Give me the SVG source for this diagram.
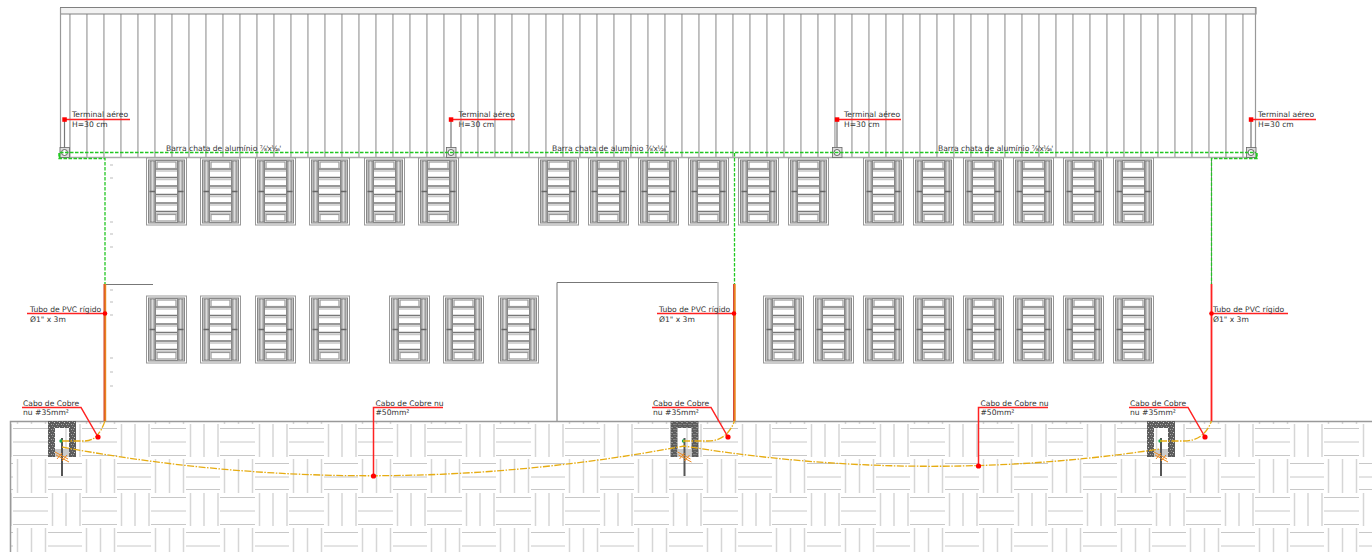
<svg xmlns="http://www.w3.org/2000/svg" width="1372" height="552" viewBox="0 0 1372 552">
<style>
text{font-family:"DejaVu Sans",sans-serif;font-size:7.6px;fill:#333}
.lead{fill:none;stroke:#f22;stroke-width:1.500}
.dot{fill:#f00}
.gnd{fill:none;stroke:#22c822;stroke-width:1.300;stroke-dasharray:3.500 1.500}
.cu{fill:none;stroke:#e6ac12;stroke-width:1.300;stroke-dasharray:7 1.500 1.500 1.500}
.tube{stroke:#e8821e;stroke-width:2.400;fill:none}
.tube2{stroke:#c33;stroke-width:.8;fill:none}
.f{font-size:7.400px;letter-spacing:-.7px}
</style>
<defs>
<pattern id="ribs" patternUnits="userSpaceOnUse" x="69" y="14" width="17" height="20">
<rect x="0" y="0" width="1.800" height="20" fill="#bcbcbc"/>
</pattern>
<pattern id="pave" patternUnits="userSpaceOnUse" x="13" y="424" width="69" height="69">
<g fill="none" stroke="#c8c8c8" stroke-width="1">
<path d="M0 4.500H35M0 18H35M0 31.500H35"/>
<path d="M35 39.500H69M35 53H69M35 65.500H69"/>
</g>
<g fill="none" stroke="#d6d6d6" stroke-width="1.500">
<path d="M39.500 0V33M53 0V33M67 0V33"/>
<path d="M4.500 35V69M18.500 35V69M32.500 35V69"/>
</g>
</pattern>
<pattern id="speck" patternUnits="userSpaceOnUse" width="5" height="5">
<rect width="5" height="5" fill="#5c5c5c"/>
<rect x="1" y="1" width="1" height="1" fill="#ccc"/>
<rect x="3" y="3" width="1" height="1" fill="#aaa"/>
<rect x="4" y="0" width="1" height="1" fill="#888"/>
<rect x="0" y="3" width="1" height="1" fill="#999"/>
</pattern>
<g id="win">
<rect x=".5" y=".5" width="40" height="67" fill="#fff" stroke="#999"/>
<rect x="2.500" y="2.500" width="36" height="63" fill="none" stroke="#888"/>
<rect x="4" y="3.500" width="5" height="61" fill="#bbb" stroke="#808080" stroke-width="1"/>
<rect x="32" y="3.500" width="5" height="61" fill="#bbb" stroke="#808080" stroke-width="1"/>
<path d="M6.500 4V64M34.500 4V64" stroke="#ddd" stroke-width="1" fill="none"/>
<path d="M3.500 34h6M31.500 34h6" stroke="#666" stroke-width="1.500"/>
<rect x="9.500" y="3" width="22" height="62" fill="#fff" stroke="#888"/>
<g fill="none" stroke="#777" stroke-width="1.400">
<path d="M10 11.500H31M10 20H31M10 28.500H31M10 37H31M10 45.500H31M10 54H31"/>
</g>
<g fill="none" stroke="#c8c8c8" stroke-width="1.600">
<path d="M10 13.500H31M10 22H31M10 30.500H31M10 39H31M10 47.500H31M10 56H31"/>
</g>
<rect x="11" y="4.500" width="19" height="6.500" fill="#fff" stroke="#999" stroke-width="1.200"/>
<rect x="11" y="57" width="19" height="6.500" fill="#fff" stroke="#999" stroke-width="1.200"/>
</g>
<g id="term">
<path d="M0 -32V-3" stroke="#777" stroke-width="1.200" fill="none"/>
<rect x="-4.500" y="-5" width="9.500" height="10" fill="#ddd" stroke="#666" stroke-width=".8"/>
<circle cx="0" cy="0" r="3" fill="#fff" stroke="#444" stroke-width=".8"/>
</g>
<g id="pit">
<path d="M0 0H28V36H21V7H7V36H0Z" fill="url(#speck)"/>
<rect x="7" y="28" width="14" height="8" fill="#ccc"/>
<path d="M14 17V55" stroke="#555" stroke-width="2"/>
<circle cx="13" cy="20" r="1.700" fill="#18a850"/>
<path d="M7 31l13 7M8 34l13 7M9 38l5-6M14 40l5-6" stroke="#ee8a20" stroke-width="1" fill="none"/>
</g>
</defs>
<rect width="1372" height="552" fill="#fff"/>

<g id="roof">
<rect x="60" y="14" width="1196" height="143" fill="url(#ribs)"/>
<rect x="60.500" y="7.500" width="1195.500" height="6.500" fill="#f2f2f2" stroke="#808080"/>
<path d="M60.500 8V157M1255.500 8V157" stroke="#999" stroke-width="1.200" fill="none"/>
<path d="M60 157.500H1256" stroke="#aaa" stroke-width="1.500" fill="none"/>
</g>

<g id="wall" fill="none">
<path d="M104 284.500H153" stroke="#777" stroke-width="1.200"/>
<path d="M557 421V282.500H718" stroke="#777" stroke-width="1"/>
<path d="M718 282V421" stroke="#bbb" stroke-width="1.500"/>
<path d="M110 165h3M110 178h3M110 222h3M110 234h3M110 247h3M110 290h3M110 302h3M110 315h3M110 358h3M110 372h3M110 386h3" stroke="#bbb"/>
</g>

<g id="windows">
<use href="#win" x="146" y="157.500"/><use href="#win" x="200" y="157.500"/><use href="#win" x="255" y="157.500"/><use href="#win" x="309" y="157.500"/><use href="#win" x="364" y="157.500"/><use href="#win" x="418" y="157.500"/>
<use href="#win" x="538" y="157.500"/><use href="#win" x="588" y="157.500"/><use href="#win" x="638" y="157.500"/><use href="#win" x="688" y="157.500"/><use href="#win" x="738" y="157.500"/><use href="#win" x="788" y="157.500"/>
<use href="#win" x="863" y="157.500"/><use href="#win" x="913" y="157.500"/><use href="#win" x="963" y="157.500"/><use href="#win" x="1013" y="157.500"/><use href="#win" x="1063" y="157.500"/><use href="#win" x="1113" y="157.500"/>
<use href="#win" x="146" y="295.500"/><use href="#win" x="200" y="295.500"/><use href="#win" x="255" y="295.500"/><use href="#win" x="309" y="295.500"/>
<use href="#win" x="389" y="295.500"/><use href="#win" x="443" y="295.500"/><use href="#win" x="498" y="295.500"/>
<use href="#win" x="763" y="295.500"/><use href="#win" x="813" y="295.500"/><use href="#win" x="863" y="295.500"/><use href="#win" x="913" y="295.500"/><use href="#win" x="963" y="295.500"/><use href="#win" x="1013" y="295.500"/><use href="#win" x="1063" y="295.500"/><use href="#win" x="1113" y="295.500"/>
</g>

<g id="ground">
<rect x="10" y="421" width="1362" height="131" fill="url(#pave)"/>
<path d="M10.500 552V421.500H1372" fill="none" stroke="#999" stroke-width="1.500"/>
</g>

<g id="pit-left"><use href="#pit" x="48" y="421"/></g>
<g id="pit-mid"><use href="#pit" x="670.500" y="421"/></g>
<g id="pit-right"><use href="#pit" x="1147" y="421"/></g>

<g id="terminal-1"><use href="#term" x="64.500" y="152.500"/></g>
<g id="terminal-2"><use href="#term" x="451" y="152.500"/></g>
<g id="terminal-3"><use href="#term" x="837" y="152.500"/></g>
<g id="terminal-4"><use href="#term" x="1251" y="152.500"/></g>

<g id="connectors">
<path d="M1211.500 158V284" stroke="#555" stroke-width=".8" fill="none"/>
<path class="gnd" d="M60 152.500H1256M59 153V158.500H105V284M1257 153V158.500H1211.500V284M734.500 153V284"/>
<path d="M59.500 153V158" stroke="#22c822" stroke-width="1.500" fill="none"/>
<path d="M1256.500 153V158" stroke="#22c822" stroke-width="1.500" fill="none"/>
<path class="tube" d="M105 284V421M734.500 284V421"/>
<path d="M1211.500 284V421" stroke="#f22" stroke-width="1.800" fill="none"/>
<path class="tube2" d="M104 284V421M733.500 284V421"/>
<path class="cu" d="M62 441H85Q98 441 105 421M683 441H708Q727 441 734.500 421M1160 441H1184Q1204 441 1211.500 421"/>
<path class="cu" d="M62 447Q373 505 684 446Q922 485 1160 449"/>
<g id="leaders">
<path class="lead" d="M64.500 119.500H130M451 119.500H515M837 119.500H901M1251 119.500H1316"/>
<path class="lead" d="M27 313.500H105M657 313.500H734M1211.500 313.500H1288"/>
<path class="lead" d="M22 407.500H81L98 437M652 407.500H711L728 437M1129 407.500H1188L1205 437"/>
<path class="lead" d="M443 407.500H373.500V476M1048 407.500H978.500V466"/>
<rect class="dot" x="62.300" y="117.300" width="4.500" height="4.500"/><rect class="dot" x="448.800" y="117.300" width="4.500" height="4.500"/><rect class="dot" x="834.800" y="117.300" width="4.500" height="4.500"/><rect class="dot" x="1248.800" y="117.300" width="4.500" height="4.500"/>
<circle class="dot" cx="105" cy="313.500" r="2.300"/><circle class="dot" cx="734" cy="313.500" r="2.300"/><circle class="dot" cx="1211.500" cy="313.500" r="2.300"/>
<circle class="dot" cx="98" cy="437" r="2.600"/><circle class="dot" cx="728" cy="437" r="2.600"/><circle class="dot" cx="1205" cy="437" r="2.600"/>
<circle class="dot" cx="373.500" cy="476" r="2.600"/><circle class="dot" cx="978.500" cy="466" r="2.600"/>
</g>
</g>

<g id="labels">
<text x="72" y="117">Terminal aéreo</text><text x="72" y="126.500">H=30 cm</text>
<text x="458.500" y="117">Terminal aéreo</text><text x="458.500" y="126.500">H=30 cm</text>
<text x="844" y="117">Terminal aéreo</text><text x="844" y="126.500">H=30 cm</text>
<text x="1258" y="117">Terminal aéreo</text><text x="1258" y="126.500">H=30 cm</text>
<text x="166" y="151">Barra chata de alumínio <tspan class="f">⅞'x⅟₁₆'</tspan></text>
<text x="552" y="151">Barra chata de alumínio <tspan class="f">⅞'x⅟₁₆'</tspan></text>
<text x="938" y="151">Barra chata de alumínio <tspan class="f">⅞'x⅟₁₆'</tspan></text>
<text x="30" y="312">Tubo de PVC rígido</text><text x="30" y="322">Ø1" x 3m</text>
<text x="659" y="312">Tubo de PVC rígido</text><text x="659" y="322">Ø1" x 3m</text>
<text x="1213" y="312">Tubo de PVC rígido</text><text x="1213" y="322">Ø1" x 3m</text>
<text x="23" y="405.500">Cabo de Cobre</text><text x="23" y="415">nu #35mm²</text>
<text x="653" y="405.500">Cabo de Cobre</text><text x="653" y="415">nu #35mm²</text>
<text x="1130" y="405.500">Cabo de Cobre</text><text x="1130" y="415">nu #35mm²</text>
<text x="375.500" y="405.500">Cabo de Cobre nu</text><text x="375.500" y="415">#50mm²</text>
<text x="980.500" y="405.500">Cabo de Cobre nu</text><text x="980.500" y="415">#50mm²</text>
</g>
</svg>
